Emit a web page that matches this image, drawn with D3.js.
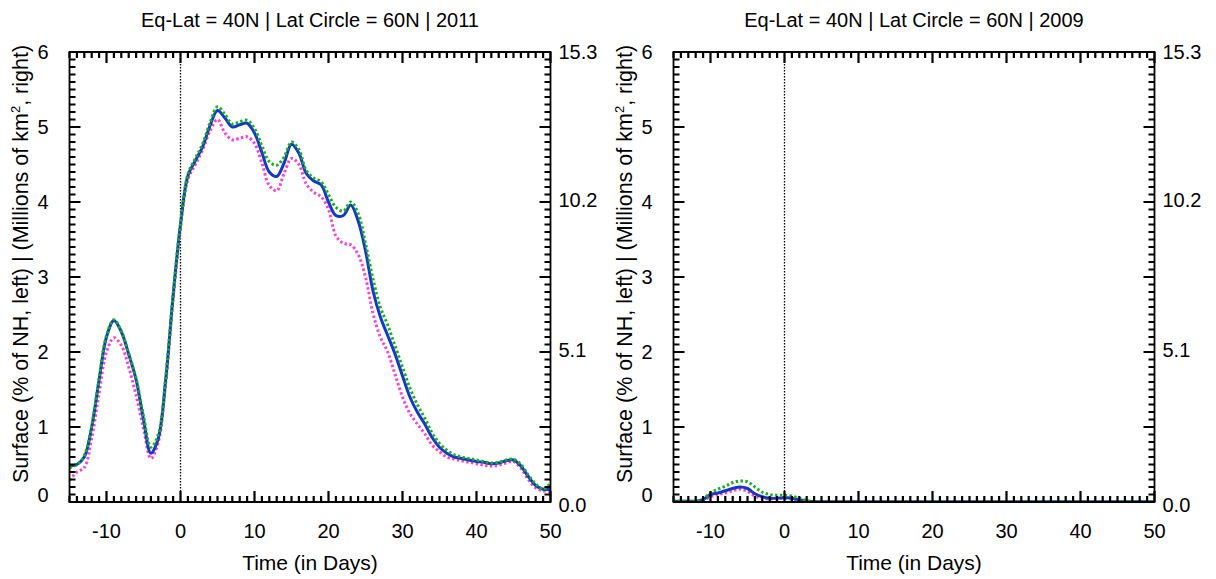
<!DOCTYPE html>
<html>
<head>
<meta charset="utf-8">
<script src="https://cdn.jsdelivr.net/npm/d3@7"></script>
<style>
  html, body { margin: 0; padding: 0; background: #fff; }
  svg text { font-family: "Liberation Sans", Arial, Helvetica, sans-serif; fill: #000; }
</style>
</head>
<body>
<svg id="chart" width="1216" height="579"></svg>
<script>
// ---------- data ----------
const days = d3.range(-15, 51); // -15 .. 50

const titles = ["Eq-Lat = 40N | Lat Circle = 60N | 2011", "Eq-Lat = 40N | Lat Circle = 60N | 2009"];

const leftTickValues = [0, 1, 2, 3, 4, 5, 6];
const rightTickValues = [0, 2, 4, 6];
const rightTickLabels = ["0.0", "5.1", "10.2", "15.3"];
const xTickValues = [-10, 0, 10, 20, 30, 40, 50];

// 2011 panel
const blue2011 = [0.48,0.50,0.60,1.00,1.63,2.20,2.42,2.27,1.97,1.63,1.10,0.65,0.85,1.63,2.75,
  3.70,4.35,4.55,4.74,5.02,5.22,5.12,5.00,5.03,5.05,4.92,4.66,4.40,4.34,4.52,4.77,4.65,4.38,4.28,4.23,
  4.00,3.82,3.82,3.96,3.75,3.35,2.82,2.47,2.22,1.97,1.68,1.40,1.20,1.04,0.86,0.73,0.65,0.60,0.58,0.56,
  0.54,0.53,0.51,0.52,0.55,0.56,0.48,0.34,0.22,0.17,0.17];
const green2011 = [0.46,0.50,0.62,1.02,1.65,2.22,2.43,2.28,1.98,1.65,1.15,0.73,0.90,1.66,2.76,
  3.72,4.37,4.58,4.78,5.06,5.27,5.17,5.04,5.07,5.09,4.98,4.75,4.54,4.49,4.60,4.80,4.70,4.42,4.32,4.27,
  4.10,3.93,3.88,4.00,3.85,3.45,2.98,2.60,2.36,2.08,1.80,1.52,1.30,1.12,0.92,0.78,0.69,0.63,0.60,0.58,
  0.56,0.54,0.52,0.53,0.56,0.57,0.50,0.36,0.24,0.17,0.25];
const magenta2011 = [0.29,0.40,0.46,0.85,1.45,2.00,2.19,2.09,1.80,1.42,0.98,0.58,0.80,1.58,2.70,
  3.65,4.30,4.50,4.70,4.95,5.10,4.92,4.83,4.85,4.87,4.78,4.52,4.22,4.15,4.38,4.58,4.50,4.24,4.13,4.07,
  3.90,3.55,3.45,3.43,3.30,3.00,2.52,2.20,2.00,1.70,1.40,1.18,1.04,0.91,0.76,0.67,0.60,0.57,0.55,0.53,
  0.51,0.49,0.48,0.49,0.52,0.54,0.45,0.30,0.19,0.15,0.14];

// 2009 panel
const blue2009 = [0.01,0.01,0.01,0.01,0.03,0.10,0.12,0.15,0.18,0.20,0.18,0.11,0.07,0.05,0.05,
  0.06,0.05,0.03,0.01,0.005,0.005,0.005,0.005,0.005,0.005,0.005,0.005,0.005,0.005,0.005,0.005,0.005,0.005,0.005,0.005,
  0.005,0.005,0.005,0.005,0.005,0.005,0.005,0.005,0.005,0.005,0.005,0.005,0.005,0.005,0.005,0.005,0.005,0.005,0.005,0.005,
  0.005,0.005,0.005,0.005,0.005,0.005,0.005,0.005,0.005,0.005,0.005];
const green2009 = [0.01,0.01,0.01,0.01,0.04,0.12,0.17,0.21,0.26,0.28,0.27,0.20,0.13,0.10,0.09,
  0.09,0.08,0.05,0.02,0.01,0.005,0.005,0.005,0.005,0.005,0.005,0.005,0.005,0.005,0.005,0.005,0.005,0.005,0.005,0.005,
  0.005,0.005,0.005,0.005,0.005,0.005,0.005,0.005,0.005,0.005,0.005,0.005,0.005,0.005,0.005,0.005,0.005,0.005,0.005,0.005,
  0.005,0.005,0.005,0.005,0.005,0.005,0.005,0.005,0.005,0.005,0.005];
const magenta2009 = [0.005,0.005,0.005,0.005,0.02,0.07,0.10,0.12,0.15,0.17,0.14,0.08,0.05,0.04,0.04,
  0.05,0.04,0.02,0.005,0.005,0.005,0.005,0.005,0.005,0.005,0.005,0.005,0.005,0.005,0.005,0.005,0.005,0.005,0.005,0.005,
  0.005,0.005,0.005,0.005,0.005,0.005,0.005,0.005,0.005,0.005,0.005,0.005,0.005,0.005,0.005,0.005,0.005,0.005,0.005,0.005,
  0.005,0.005,0.005,0.005,0.005,0.005,0.005,0.005,0.005,0.005,0.005];

const panels = [
  { title: titles[0], x0: 69.5, x1: 550.5, blue: blue2011, green: green2011, magenta: magenta2011 },
  { title: titles[1], x0: 673.5, x1: 1154.5, blue: blue2009, green: green2009, magenta: magenta2009 }
];

// ---------- drawing ----------
const svg = d3.select("#chart");
const yTop = 52, yBot = 502;
const FS = 20;

panels.forEach(p => {
  const x = d3.scaleLinear().domain([-15, 50]).range([p.x0, p.x1]);
  const y = d3.scaleLinear().domain([0, 6]).range([yBot, yTop]);
  const g = svg.append("g");

  const clipId = "clip" + Math.round(p.x0);
  svg.append("clipPath").attr("id", clipId).append("rect")
    .attr("x", p.x0).attr("y", yTop - 4).attr("width", p.x1 - p.x0).attr("height", yBot - yTop + 4);

  // dotted zero line
  g.append("path")
    .attr("d", `M${x(0)},${yTop}V${yBot}`)
    .attr("fill", "none").attr("stroke", "#000").attr("stroke-width", 1.3).attr("stroke-dasharray", "1.5,1.5");

  // curves
  const line = d3.line().x((d, i) => x(days[i])).y(d => y(d)).curve(d3.curveCatmullRom.alpha(0.5));
  const cg = g.append("g").attr("clip-path", `url(#${clipId})`);
  cg.append("path").datum(p.magenta).attr("d", line).attr("fill", "none")
    .attr("stroke", "#ff3fd2").attr("stroke-width", 3).attr("stroke-dasharray", "2.4,2.4");
  cg.append("path").datum(p.blue).attr("d", line).attr("fill", "none")
    .attr("stroke", "#1438c8").attr("stroke-width", 3);
  cg.append("path").datum(p.green).attr("d", line).attr("fill", "none")
    .attr("stroke", "#18b018").attr("stroke-width", 3).attr("stroke-dasharray", "2.4,2.4");

  // ticks (inward on all four sides), built from the scales
  const minorX = d3.range(-15, 51, 1);
  const minorY = d3.range(0, 61, 1).map(v => v / 10);
  const isMajorX = d => xTickValues.includes(d);
  const isMajorY = d => Math.abs(d - Math.round(d)) < 1e-9;
  const tp = d3.path();
  minorX.forEach(d => {
    const L = isMajorX(d) ? 11 : 6;
    tp.moveTo(x(d), yBot); tp.lineTo(x(d), yBot - L);
    tp.moveTo(x(d), yTop); tp.lineTo(x(d), yTop + L);
  });
  minorY.forEach(d => {
    const L = isMajorY(d) ? 11 : 6;
    tp.moveTo(p.x0, y(d)); tp.lineTo(p.x0 + L, y(d));
    tp.moveTo(p.x1, y(d)); tp.lineTo(p.x1 - L, y(d));
  });
  g.append("path").attr("d", tp.toString())
    .attr("fill", "none").attr("stroke", "#000").attr("stroke-width", 2.2);

  // frame
  g.append("path")
    .attr("d", `M${p.x0},${yTop}H${p.x1}V${yBot}H${p.x0}Z`)
    .attr("fill", "none").attr("stroke", "#000").attr("stroke-width", 1.8);

  // tick labels
  g.selectAll(".xlab").data(xTickValues).enter().append("text")
    .attr("x", d => x(d)).attr("y", 538).attr("text-anchor", "middle")
    .attr("font-size", FS).text(d => d);
  g.selectAll(".ylab").data(leftTickValues).enter().append("text")
    .attr("x", p.x0 - 21).attr("y", d => y(d) + 7 - (d === 0 ? 7 : 0)).attr("text-anchor", "end")
    .attr("font-size", FS).text(d => d);
  g.selectAll(".rlab").data(rightTickValues).enter().append("text")
    .attr("x", p.x1 + 8).attr("y", d => y(d) + 7 + (d === 0 ? 3 : (d === 6 ? 0 : -2)))
    .attr("text-anchor", "start").attr("font-size", FS).text((d, i) => rightTickLabels[i]);

  // titles
  const cx = (p.x0 + p.x1) / 2;
  g.append("text").attr("x", cx).attr("y", 27).attr("text-anchor", "middle")
    .attr("font-size", FS).text(p.title);
  g.append("text").attr("x", cx).attr("y", 570).attr("text-anchor", "middle")
    .attr("font-size", 21).text("Time (in Days)");

  // y axis label
  const yl = g.append("text")
    .attr("transform", `translate(${p.x0 - 42},264) rotate(-90)`)
    .attr("text-anchor", "middle").attr("font-size", 21.5);
  yl.append("tspan").text("Surface (% of NH, left) | (Millions of km");
  yl.append("tspan").attr("font-size", 13).attr("dy", -8).text("2");
  yl.append("tspan").attr("dy", 8).text(", right)");
});
</script>
</body>
</html>
